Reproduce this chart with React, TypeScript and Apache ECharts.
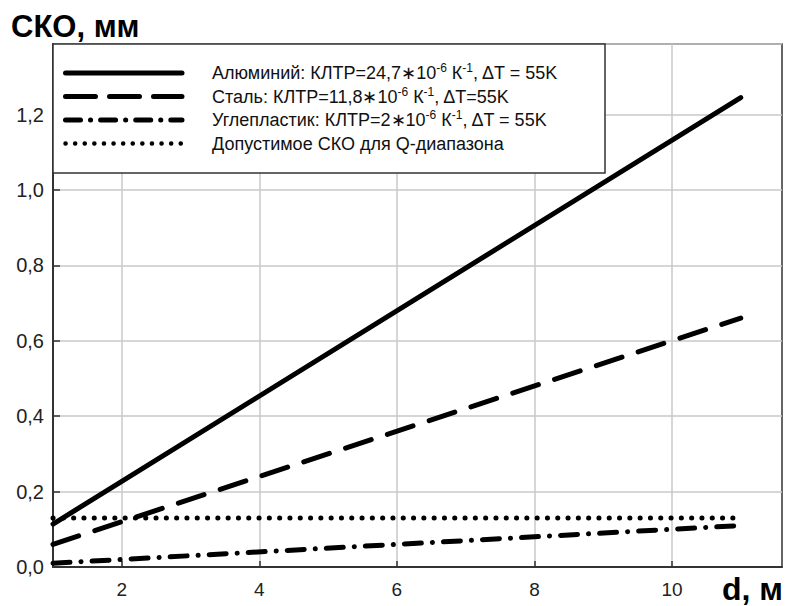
import React, { useEffect, useRef } from "react";
import * as echarts from "echarts";

const distances = [1, 11];
const aluminium = [0.114, 1.245];
const steel = [0.06, 0.66];
const carbon = [0.01, 0.11];
const allowed = [0.13, 0.13];
const xTicks = [2, 4, 6, 8, 10];

const legendTexts = [
  "{t|Алюминий: КЛТР=24,7∗10}{s|-6}{t| К}{s|-1}{t|, ΔT = 55K}",
  "{t|Сталь: КЛТР=11,8∗10}{s|-6}{t| К}{s|-1}{t|, ΔT=55K}",
  "{t|Углепластик: КЛТР=2∗10}{s|-6}{t| К}{s|-1}{t|, ΔT = 55K}",
  "{t|Допустимое СКО для Q-диапазона}",
];

const FONT = "'Liberation Sans', Arial, sans-serif";

const solidStyle = { width: 5, type: "solid" as any, cap: "round" as any };
const dashStyle = { width: 5, type: [27, 17] as any, cap: "round" as any };
const dashDotStyle = { width: 5, type: [17, 11, 0.1, 11] as any, cap: "round" as any };
const dotStyle = { width: 5, type: [0.1, 10.2] as any, cap: "round" as any };

const legendDashes: (number[] | null)[] = [null, [30, 14], [15, 10, 0.1, 10], [0.1, 9.5]];
const legendWidths = [5, 5, 5, 4.5];

export default function App() {
  const ref = useRef<HTMLDivElement>(null);
  useEffect(() => {
    if (!ref.current) return;
    const chart = echarts.init(ref.current, null, { renderer: "svg" });
    const mk = (vals: number[]) => distances.map((d, i) => [d, vals[i]]);
    const rowY = [73, 96.5, 120, 143.5];
    const legendGraphics: any[] = [
      {
        type: "rect",
        z: 100,
        shape: { x: 53, y: 44, width: 552, height: 129 },
        style: { fill: "#fff", stroke: "#333", lineWidth: 1.5 },
      },
    ];
    rowY.forEach((y, i) => {
      const dash = legendDashes[i];
      legendGraphics.push({
        type: "line",
        z: 101,
        shape: { x1: 65.5, y1: y, x2: 182, y2: y },
        style: {
          stroke: "#000",
          lineWidth: legendWidths[i],
          lineCap: "round",
          lineDash: dash || undefined,
        },
      });
      legendGraphics.push({
        type: "text",
        z: 101,
        style: {
          x: 212,
          y,
          text: legendTexts[i],
          verticalAlign: "middle",
          rich: {
            t: { fontSize: 18, fontFamily: FONT, fill: "#111", lineHeight: 22, verticalAlign: "middle" },
            s: { fontSize: 12, fontFamily: FONT, fill: "#111", lineHeight: 22, verticalAlign: "top" },
          },
        },
      });
    });

    chart.setOption({
      animation: false,
      grid: {
        left: 53,
        top: 44,
        right: 5,
        bottom: 39,
        show: true,
        borderColor: "#333",
        borderWidth: 1.5,
        backgroundColor: "transparent",
      },
      xAxis: {
        type: "value",
        min: 1,
        max: 11.6,
        axisLine: { show: true, lineStyle: { color: "#333", width: 2 } },
        axisTick: { show: true, inside: true, length: 6, customValues: xTicks, lineStyle: { color: "#333", width: 1.5 } },
        axisLabel: {
          customValues: xTicks,
          fontSize: 19,
          fontFamily: FONT,
          color: "#222",
          margin: 13,
          formatter: (v: number) => String(v),
        },
        splitLine: { show: true, lineStyle: { color: "#c8c8c8", width: 1.5 } },
      },
      yAxis: {
        type: "value",
        min: 0,
        max: 1.387,
        interval: 0.2,
        axisLine: { show: true, lineStyle: { color: "#333", width: 2 } },
        axisTick: { show: true, inside: true, length: 7, lineStyle: { color: "#333", width: 1.5 } },
        axisLabel: {
          showMaxLabel: false,
          fontSize: 20,
          fontFamily: FONT,
          color: "#222",
          margin: 9,
          formatter: (v: number) => v.toFixed(1).replace(".", ","),
        },
        splitLine: { show: true, lineStyle: { color: "#c8c8c8", width: 1.5 } },
      },
      series: [
        { name: "Алюминий", type: "line", data: mk(aluminium), symbol: "none", lineStyle: { ...solidStyle, color: "#000" }, z: 5 },
        { name: "Сталь", type: "line", data: mk(steel), symbol: "none", lineStyle: { ...dashStyle, color: "#000" }, z: 5 },
        { name: "Углепластик", type: "line", data: mk(carbon), symbol: "none", lineStyle: { ...dashDotStyle, color: "#000" }, z: 5 },
        { name: "Допустимое СКО", type: "line", data: mk(allowed), symbol: "none", lineStyle: { ...dotStyle, color: "#000" }, z: 5 },
      ],
      graphic: [
        ...legendGraphics,
        {
          type: "text",
          z: 101,
          style: { x: 11, y: 26, text: "СКО, мм", fontSize: 31, fontWeight: "bold", fontFamily: FONT, fill: "#000", verticalAlign: "middle" },
        },
        {
          type: "text",
          z: 101,
          style: { x: 722, y: 589, text: "d, м", fontSize: 32, fontWeight: "bold", fontFamily: FONT, fill: "#000", verticalAlign: "middle" },
        },
      ],
    });
    return () => chart.dispose();
  }, []);
  return <div ref={ref} style={{ position: "fixed", left: 0, top: 0, width: 787, height: 606, background: "#fff" }} />;
}
